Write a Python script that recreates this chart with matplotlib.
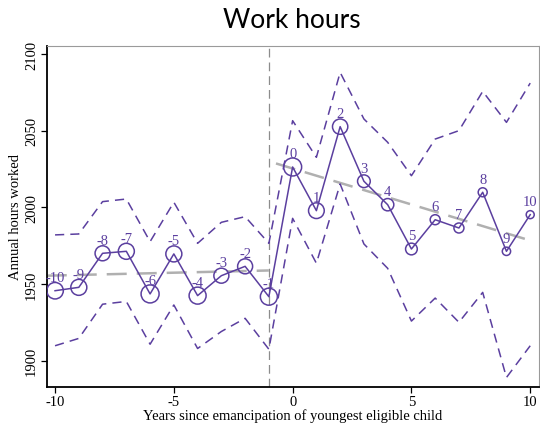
import numpy as np
import matplotlib
matplotlib.use("Agg")
import matplotlib.pyplot as plt

# Event-time estimates of annual hours worked
years = list(range(-10, 11))
estimate = [1945.6, 1947.8, 1970.0, 1971.3, 1943.5, 1969.6, 1942.4, 1955.4, 1961.5, 1941.7,
            2026.3, 1997.8, 2052.6, 2017.0, 2001.7, 1972.8, 1991.9, 1986.5, 2009.8, 1971.3, 1995.2]
upper_ci = [1982.0, 1982.6, 2003.7, 2005.4, 1977.6, 2003.3, 1976.5, 1990.2, 1993.9, 1976.5,
            2056.5, 2032.6, 2088.0, 2057.6, 2042.4, 2020.6, 2044.5, 2050.0, 2075.6, 2055.4, 2081.0]
lower_ci = [1909.7, 1914.5, 1936.8, 1938.6, 1910.7, 1936.3, 1907.9, 1919.0, 1927.6, 1907.4,
            1992.8, 1963.5, 2015.2, 1976.1, 1960.2, 1925.8, 1940.8, 1925.0, 1944.5, 1889.0, 1909.7]
# relative sample weight of each event year (drives marker size)
weights = [16.5, 16, 15, 16, 18, 16, 17, 15, 15, 17,
           18, 15.7, 15.3, 12.7, 12.3, 11.7, 10, 10, 9, 8.3, 8]

# linear trends before and after emancipation
pre_trend_x = [-10.35, -1.0]
pre_trend_y = [1955.4, 1958.8]
post_trend_x = [-0.7, 9.8]
post_trend_y = [2028.6, 1979.3]

event_line = -1
x_ticks = [-10, -5, 0, 5, 10]
y_ticks = [1900, 1950, 2000, 2050, 2100]

purple = "#5b3f9f"
grey = "#b0b0b0"
serif = ["Liberation Serif", "DejaVu Serif"]

fig = plt.figure(figsize=(5.4, 4.27), dpi=100)
ax = fig.add_axes([46.5 / 540, 1 - 388 / 427, (539 - 46.5) / 540, (388 - 47) / 427])

ax.axvline(event_line, color="#8c8c8c", lw=0.9, ls=(0, (7, 4)), zorder=1)

ax.plot(pre_trend_x, pre_trend_y, color=grey, lw=1.8, ls=(0, (8, 4)), zorder=2)
ax.plot(post_trend_x, post_trend_y, color=grey, lw=1.8, ls=(0, (8, 4)), zorder=2)

ax.plot(years, upper_ci, color=purple, lw=1.1, ls=(0, (6, 4)), zorder=3)
ax.plot(years, lower_ci, color=purple, lw=1.1, ls=(0, (6, 4)), zorder=3)
ax.plot(years, estimate, color=purple, lw=1.1, zorder=4)

# marker diameter in pixels -> points
sizes = [(w * 72 / 100) ** 2 for w in weights]
ax.scatter(years, estimate, s=sizes, facecolors="none", edgecolors=purple,
           linewidths=1.1, zorder=5)

for x, y in zip(years, estimate):
    ax.annotate(str(x), (x, y), xytext=(0, 9.5), textcoords="offset points",
                ha="center", va="center", color=purple, fontsize=10.5,
                family=serif, zorder=6)

ax.set_xlim(-10.36, 10.37)
ax.set_ylim(1882.8, 2105.2)
ax.set_xticks(x_ticks)
ax.set_yticks(y_ticks)
ax.set_xticklabels([str(t) for t in x_ticks], family=serif, fontsize=10.5)
ax.set_yticklabels([str(t) for t in y_ticks], family=serif, fontsize=10.5,
                   rotation=90, va="center")
ax.tick_params(axis="both", direction="out", length=4, width=0.9, color="black", pad=2)

ax.set_xlabel("Years since emancipation of youngest eligible child",
              family=serif, fontsize=10.5, labelpad=0)
ax.set_ylabel("Annual hours worked", family=serif, fontsize=10.5, labelpad=2)

for side in ("left", "bottom"):
    ax.spines[side].set_color("black")
    ax.spines[side].set_linewidth(1.3)
for side in ("top", "right"):
    ax.spines[side].set_color("#9a9a9a")
    ax.spines[side].set_linewidth(0.8)

fig.text(292 / 540, 1 - 20 / 427, "Work hours", ha="center", va="center",
         fontsize=19, family=["Lato", "DejaVu Sans"])

fig.savefig("out.png", dpi=100)
